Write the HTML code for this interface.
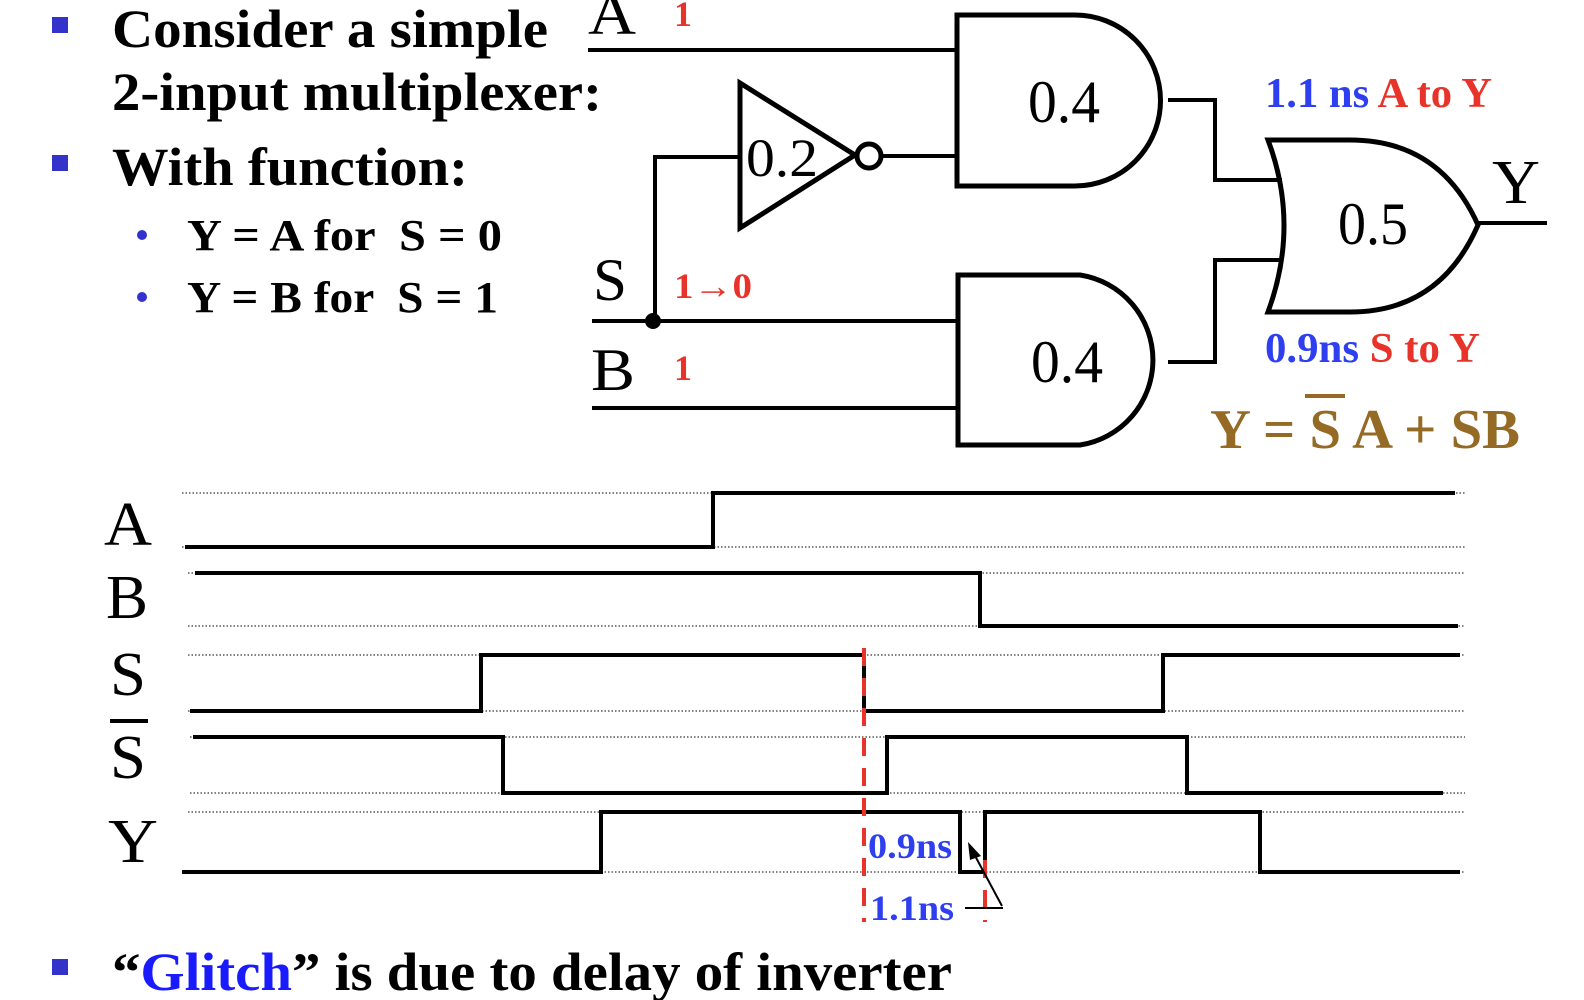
<!DOCTYPE html>
<html><head><meta charset="utf-8"><style>
html,body{margin:0;padding:0;background:#fff;width:1584px;height:1000px;overflow:hidden}
svg{display:block}
text{font-family:"Liberation Serif",serif}
</style></head><body>
<svg id="s" width="1584" height="1000" viewBox="0 0 1584 1000">
<g font-weight="bold" fill="#000">
<rect x="52" y="17" width="16" height="16" fill="#3333cc"/>
<text x="112" y="47" font-size="54" textLength="436" lengthAdjust="spacingAndGlyphs">Consider a simple</text>
<text x="112" y="110" font-size="54" textLength="490" lengthAdjust="spacingAndGlyphs">2-input multiplexer:</text>
<rect x="52" y="155" width="16" height="16" fill="#3333cc"/>
<text x="112" y="185" font-size="54" textLength="356" lengthAdjust="spacingAndGlyphs">With function:</text>
<circle cx="142" cy="235" r="5" fill="#3333cc"/>
<text x="187" y="250" font-size="44" textLength="315" lengthAdjust="spacingAndGlyphs" xml:space="preserve">Y = A for  S = 0</text>
<circle cx="142" cy="297" r="5" fill="#3333cc"/>
<text x="187" y="312" font-size="44" textLength="311" lengthAdjust="spacingAndGlyphs" xml:space="preserve">Y = B for  S = 1</text>
<rect x="52" y="959" width="16" height="16" fill="#3333cc"/>
<text x="112" y="990" font-size="54" textLength="840" lengthAdjust="spacingAndGlyphs">“<tspan fill="#1a1aff">Glitch</tspan>” is due to delay of inverter</text>
</g>

<g stroke="#000" fill="none" stroke-width="4">
<line x1="588" y1="50" x2="957" y2="50"/>
<path d="M957 15 H1075 A85 85 0 0 1 1075 186 H957 Z" stroke-width="5"/>
<path d="M740 83 L855 155 L740 228 Z" stroke-width="5"/>
<circle cx="869" cy="156" r="12" stroke-width="5"/>
<line x1="881" y1="156" x2="957" y2="156"/>
<polyline points="740,157 655,157 655,321"/>
<line x1="592" y1="321" x2="958" y2="321"/>
<circle cx="653" cy="321" r="8" fill="#000" stroke="none"/>
<line x1="592" y1="408" x2="958" y2="408"/>
<path d="M958 275 H1080 A86 86 0 0 1 1080 445 H958 Z" stroke-width="5"/>
<polyline points="1168,100 1215,100 1215,180 1282,180"/>
<polyline points="1168,362 1215,362 1215,260 1282,260"/>
<path d="M1268 140 H1350 Q1440 140 1478 225 Q1440 312 1350 312 H1268 Q1300 225 1268 140 Z" stroke-width="5"/>
<line x1="1478" y1="223" x2="1547" y2="223"/>
</g>
<g font-size="60" fill="#000">
<text x="588" y="34" textLength="48" lengthAdjust="spacingAndGlyphs">A</text>
<text x="593" y="300" textLength="34" lengthAdjust="spacingAndGlyphs">S</text>
<text x="591" y="390" textLength="44" lengthAdjust="spacingAndGlyphs">B</text>
<text x="1028" y="122" textLength="72" lengthAdjust="spacingAndGlyphs">0.4</text>
<text x="1031" y="382" textLength="72" lengthAdjust="spacingAndGlyphs">0.4</text>
<text x="1338" y="244" textLength="70" lengthAdjust="spacingAndGlyphs">0.5</text>
<text x="746" y="176" font-size="54" textLength="72" lengthAdjust="spacingAndGlyphs">0.2</text>
<text x="1492" y="203" font-size="62" textLength="48" lengthAdjust="spacingAndGlyphs">Y</text>
<g font-weight="bold" font-size="36" fill="#e8332a">
<text x="674" y="26">1</text>
<text x="674" y="298" textLength="78" lengthAdjust="spacingAndGlyphs">1→0</text>
<text x="674" y="380">1</text>
</g>
<g font-weight="bold" font-size="42">
<text x="1265" y="107" textLength="227" lengthAdjust="spacingAndGlyphs"><tspan fill="#2e3ff0">1.1 ns </tspan><tspan fill="#e8332a">A to Y</tspan></text>
<text x="1265" y="362" textLength="215" lengthAdjust="spacingAndGlyphs"><tspan fill="#2e3ff0">0.9ns </tspan><tspan fill="#e8332a">S to Y</tspan></text>
</g>
<text x="1210" y="448" font-size="56" font-weight="bold" fill="#946a25" textLength="310" lengthAdjust="spacingAndGlyphs" xml:space="preserve">Y = S A + SB</text>
<line x1="1305" y1="396" x2="1345" y2="396" stroke="#946a25" stroke-width="4"/>
</g>

<g font-size="62" fill="#000">
<text x="104" y="545" textLength="48" lengthAdjust="spacingAndGlyphs">A</text>
<text x="106" y="618" textLength="42" lengthAdjust="spacingAndGlyphs">B</text>
<text x="110" y="695" textLength="36" lengthAdjust="spacingAndGlyphs">S</text>
<text x="110" y="778" textLength="36" lengthAdjust="spacingAndGlyphs">S</text>
<line x1="110" y1="721" x2="148" y2="721" stroke="#000" stroke-width="4"/>
<text x="108" y="862" textLength="50" lengthAdjust="spacingAndGlyphs">Y</text>
</g>
<g id="waves"></g>
<g>
<line x1="864" y1="648" x2="864" y2="922" stroke="#e8332a" stroke-width="4" stroke-dasharray="18,12"/>
<line x1="985" y1="860" x2="985" y2="922" stroke="#e8332a" stroke-width="4" stroke-dasharray="18,12"/>
<text x="868" y="858" font-size="36" font-weight="bold" fill="#2e3ff0" textLength="84" lengthAdjust="spacingAndGlyphs">0.9ns</text>
<text x="870" y="920" font-size="36" font-weight="bold" fill="#2e3ff0" textLength="84" lengthAdjust="spacingAndGlyphs">1.1ns</text>
<line x1="1002" y1="906" x2="973" y2="852" stroke="#000" stroke-width="2"/>
<path d="M968 842 L981 856 L970 860 Z" fill="#000"/>
<line x1="965" y1="908" x2="1003" y2="908" stroke="#000" stroke-width="2"/>
</g>
</svg>
<script>
// Waveform data: transition times (x in px of time axis) and levels
const signalNames = ["A","B","S","Sbar","Y"];
const startX = [185,195,190,193,182];
const endX = [1455,1458,1460,1443,1460];
const transitions = [[713],[980],[481,864,1163],[503,887,1187],[601,960,985,1260]];
const initialLevels = [0,1,0,1,0];
const highY = [493,573,655,737,812];
const lowY = [547,626,711,793,872];
const dotStart = [182,188,188,190,188];

const g = document.getElementById('waves');
const NS = 'http://www.w3.org/2000/svg';
function yOf(i, lvl){ return lvl ? highY[i] : lowY[i]; }
for (let i = 0; i < signalNames.length; i++) {
  [highY[i], lowY[i]].forEach(function(y){
    const d = document.createElementNS(NS,'line');
    d.setAttribute('x1', dotStart[i]); d.setAttribute('x2', 1465);
    d.setAttribute('y1', y); d.setAttribute('y2', y);
    d.setAttribute('stroke','#000'); d.setAttribute('stroke-width','1');
    d.setAttribute('stroke-dasharray','1.5,2');
    
    
    g.appendChild(d);
  });
  let lvl = initialLevels[i];
  let pts = [startX[i] + ',' + yOf(i,lvl)];
  transitions[i].forEach(function(t){
    pts.push(t + ',' + yOf(i,lvl));
    lvl = 1 - lvl;
    pts.push(t + ',' + yOf(i,lvl));
  });
  pts.push(endX[i] + ',' + yOf(i,lvl));
  const p = document.createElementNS(NS,'polyline');
  p.setAttribute('points', pts.join(' '));
  p.setAttribute('fill','none'); p.setAttribute('stroke','#000'); p.setAttribute('stroke-width','4');
  
  
  g.appendChild(p);
}
</script>
</body></html>
